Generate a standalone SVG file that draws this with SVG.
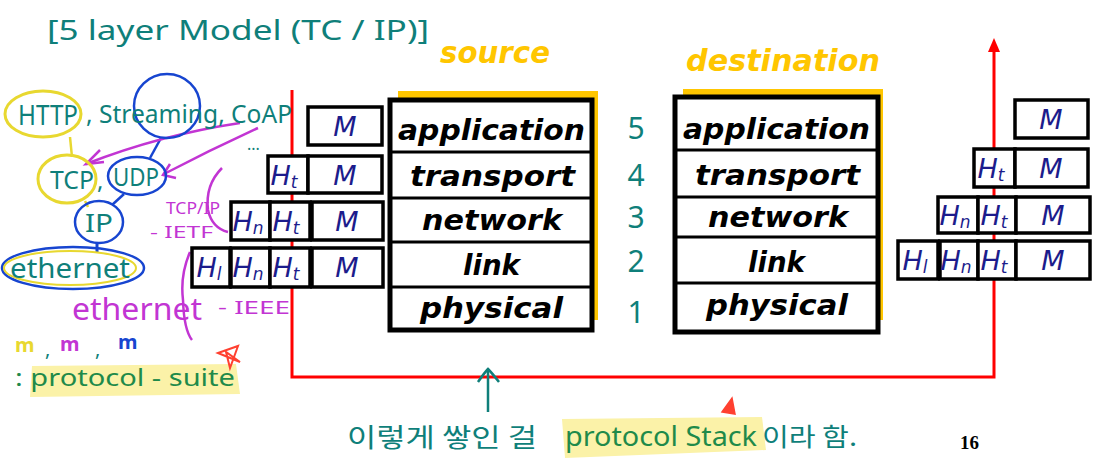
<svg xmlns="http://www.w3.org/2000/svg" width="1103" height="465" viewBox="0 0 1103 465">
<defs>
<style>
.layer{font-family:"DejaVu Sans","Liberation Sans",sans-serif;font-weight:bold;font-style:italic;font-size:29px;fill:#000}
.stack{fill:#fff;stroke:#000;stroke-width:5}
.shadow{fill:#FFC600}
.div{stroke:#000;stroke-width:3}
.pk{fill:#fff;stroke:#000;stroke-width:3.5}
.hd{font-family:"DejaVu Sans","Liberation Sans",sans-serif;font-style:italic;font-size:27px;fill:#1c1c8c;text-anchor:middle}
.sub{font-size:17px}
.title{font-family:"DejaVu Sans","Liberation Sans",sans-serif;font-weight:bold;font-style:italic;font-size:30px;fill:#FFC600}
.hw{font-family:"Noto Sans","Liberation Sans",sans-serif;fill:#0f7f7a}
.mg{font-family:"Noto Sans","Liberation Sans",sans-serif;fill:#c235d3}
.kr{font-family:"Noto Sans CJK KR","Noto Sans",sans-serif}
.num{font-family:"Noto Sans","Liberation Sans",sans-serif;font-size:30px;fill:#0f7f7a;text-anchor:middle}
.red{fill:none;stroke:#ff0000;stroke-width:3}
</style>
</defs>
<rect width="1103" height="465" fill="#fff"/>

<!-- highlights -->
<g id="highlights">
<path d="M32,366 L236,364 L240,394 L30,397 Z" fill="#FBF2A8"/>
<path d="M562,419 L762,417 L766,450 L565,458 Z" fill="#FBF2A8"/>
</g>

<!-- connectors -->
<g id="connectors">
<path class="red" d="M292,90 V377 H994 V50"/>
<polygon points="994,38 988,52 1000,52" fill="#ff0000"/>
<path d="M488,412 V370" fill="none" stroke="#0f7f7a" stroke-width="2.5"/>
<path d="M478,382 Q485,372 488,369 Q492,373 499,382" fill="none" stroke="#0f7f7a" stroke-width="2.5"/>
<!-- handwritten links -->
<path d="M70,137 L72,157" stroke="#e8d830" stroke-width="2.5" fill="none"/>
<path d="M161,138 L150,158" stroke="#1745d0" stroke-width="2.5" fill="none"/>
<path d="M124,194 L112,205" stroke="#1745d0" stroke-width="2.5" fill="none"/>
<path d="M85,201 L88,207" stroke="#e8d830" stroke-width="2.5" fill="none"/>
<path d="M97,243 L97,252" stroke="#1745d0" stroke-width="3" fill="none"/>
<!-- magenta arrows -->
<path d="M240,123 Q160,135 86,164" stroke="#c235d3" stroke-width="2.5" fill="none"/>
<path d="M100,150 L86,164 L104,162" stroke="#c235d3" stroke-width="2.5" fill="none"/>
<path d="M258,128 Q210,150 164,174" stroke="#c235d3" stroke-width="2.5" fill="none"/>
<path d="M170,164 L163,175 L176,178" stroke="#c235d3" stroke-width="2.5" fill="none"/>
<path d="M222,168 Q205,185 208,210 Q212,228 228,232" stroke="#c235d3" stroke-width="2.5" fill="none"/>
<path d="M190,252 Q180,275 183,300 Q184,330 192,340" stroke="#c235d3" stroke-width="2.5" fill="none"/>
</g>

<!-- title -->
<g id="title">
<text class="hw" x="47" y="40" font-size="28" textLength="382" lengthAdjust="spacingAndGlyphs">[5 layer Model (TC / IP)]</text>
</g>

<!-- handwritten notes -->
<g id="notes">
<ellipse cx="43" cy="114" rx="38" ry="23" fill="none" stroke="#e8d830" stroke-width="3"/>
<text class="hw" x="18" y="125" font-size="27" textLength="60" lengthAdjust="spacingAndGlyphs">HTTP</text>
<ellipse cx="167" cy="106" rx="33" ry="32" fill="none" stroke="#1745d0" stroke-width="2.5"/>
<text class="hw" x="86" y="123" font-size="25" textLength="206" lengthAdjust="spacingAndGlyphs">, Streaming, CoAP</text>
<text class="hw" x="247" y="150" font-size="16">...</text>
<ellipse cx="67" cy="179" rx="29" ry="24" fill="none" stroke="#e8d830" stroke-width="3"/>
<text class="hw" x="50" y="189" font-size="26" textLength="44" lengthAdjust="spacingAndGlyphs">TCP</text>
<text class="hw" x="97" y="189" font-size="24">,</text>
<ellipse cx="137" cy="176" rx="29" ry="19" fill="none" stroke="#1745d0" stroke-width="2.5"/>
<text class="hw" x="113" y="186" font-size="25" textLength="46" lengthAdjust="spacingAndGlyphs">UDP</text>
<ellipse cx="99" cy="222" rx="24" ry="21" fill="none" stroke="#1745d0" stroke-width="2.5"/>
<text class="hw" x="85" y="232" font-size="25" textLength="28" lengthAdjust="spacingAndGlyphs">IP</text>
<ellipse cx="73" cy="268" rx="71" ry="21" fill="none" stroke="#1745d0" stroke-width="2.5"/>
<ellipse cx="70" cy="268" rx="66" ry="17" fill="none" stroke="#e8d830" stroke-width="2"/>
<text class="hw" x="10" y="278" font-size="27" textLength="120" lengthAdjust="spacingAndGlyphs">ethernet</text>
<text class="mg" x="166" y="214" font-size="17" textLength="54" lengthAdjust="spacingAndGlyphs">TCP/IP</text>
<text class="mg" x="150" y="238" font-size="17" textLength="63" lengthAdjust="spacingAndGlyphs">- IETF</text>
<text class="mg" x="72" y="320" font-size="30" textLength="130" lengthAdjust="spacingAndGlyphs">ethernet</text>
<text class="mg" x="218" y="314" font-size="18" textLength="72" lengthAdjust="spacingAndGlyphs">- IEEE</text>
<text x="15" y="352" font-family="Noto Sans, sans-serif" font-size="20" font-weight="bold" fill="#e8d830">m</text>
<text class="hw" x="45" y="356" font-size="20">,</text>
<text x="60" y="351" font-family="Noto Sans, sans-serif" font-size="20" font-weight="bold" fill="#c235d3">m</text>
<text class="hw" x="95" y="356" font-size="20">,</text>
<text x="118" y="349" font-family="Noto Sans, sans-serif" font-size="20" font-weight="bold" fill="#1745d0">m</text>
<text x="15" y="386" font-family="Noto Sans, sans-serif" font-size="24" fill="#1f8a4a" textLength="220" lengthAdjust="spacingAndGlyphs">: protocol - suite</text>
<path d="M218,353 L238,346 L230,368 L226,352 L240,362 Z" fill="none" stroke="#ff4030" stroke-width="2"/>
<path d="M722,412 L732,398 L735,414 Z" fill="#ff4030" stroke="#ff4030" stroke-width="1.5"/>
<text x="347" y="447" font-size="26" fill="#0f7f7a" class="kr" textLength="190" lengthAdjust="spacingAndGlyphs">이렇게 쌓인 걸</text>
<text x="565" y="446" font-family="Noto Sans, sans-serif" font-size="27" fill="#1f8a4a" textLength="192" lengthAdjust="spacingAndGlyphs">protocol Stack</text>
<text x="762" y="446" font-size="25" fill="#0f7f7a" class="kr" textLength="95" lengthAdjust="spacingAndGlyphs">이라 함.</text>
</g>

<!-- source stack -->
<g id="source-stack">
<text class="title" x="440" y="63" textLength="110" lengthAdjust="spacingAndGlyphs">source</text>
<rect class="shadow" x="398" y="91" width="200" height="229"/>
<rect class="stack" x="390" y="100" width="202" height="230"/>
<line class="div" x1="390" y1="152" x2="592" y2="152"/>
<line class="div" x1="390" y1="198" x2="592" y2="198"/>
<line class="div" x1="390" y1="242" x2="592" y2="242"/>
<line class="div" x1="390" y1="287" x2="592" y2="287"/>
<text class="layer" x="398" y="140" textLength="187" lengthAdjust="spacingAndGlyphs">application</text>
<text class="layer" x="410" y="186" textLength="165" lengthAdjust="spacingAndGlyphs">transport</text>
<text class="layer" x="422" y="230" textLength="140" lengthAdjust="spacingAndGlyphs">network</text>
<text class="layer" x="463" y="275" textLength="57" lengthAdjust="spacingAndGlyphs">link</text>
<text class="layer" x="420" y="318" textLength="143" lengthAdjust="spacingAndGlyphs">physical</text>
</g>

<!-- layer numbers -->
<g id="layer-numbers">
<text class="num" x="636" y="139">5</text>
<text class="num" x="636" y="186">4</text>
<text class="num" x="636" y="228">3</text>
<text class="num" x="636" y="272">2</text>
<text class="num" x="636" y="323">1</text>
</g>

<!-- destination stack -->
<g id="destination-stack">
<text class="title" x="686" y="71" textLength="194" lengthAdjust="spacingAndGlyphs">destination</text>
<rect class="shadow" x="683" y="89" width="200" height="231"/>
<rect class="stack" x="675" y="97" width="203" height="235"/>
<line class="div" x1="675" y1="150" x2="878" y2="150"/>
<line class="div" x1="675" y1="197" x2="878" y2="197"/>
<line class="div" x1="675" y1="237" x2="878" y2="237"/>
<line class="div" x1="675" y1="283" x2="878" y2="283"/>
<text class="layer" x="683" y="139" textLength="187" lengthAdjust="spacingAndGlyphs">application</text>
<text class="layer" x="695" y="185" textLength="165" lengthAdjust="spacingAndGlyphs">transport</text>
<text class="layer" x="708" y="227" textLength="140" lengthAdjust="spacingAndGlyphs">network</text>
<text class="layer" x="748" y="272" textLength="57" lengthAdjust="spacingAndGlyphs">link</text>
<text class="layer" x="706" y="315" textLength="142" lengthAdjust="spacingAndGlyphs">physical</text>
</g>

<!-- source packets -->
<g id="source-packets">
<rect class="pk" x="308" y="107" width="74" height="38"/>
<text class="hd" x="345" y="136">M</text>
<rect class="pk" x="268" y="156" width="40" height="37"/>
<rect class="pk" x="308" y="156" width="74" height="37"/>
<text class="hd" x="284" y="185">H<tspan class="sub" dy="3">t</tspan></text>
<text class="hd" x="345" y="185">M</text>
<rect class="pk" x="231" y="202" width="39" height="38"/>
<rect class="pk" x="270" y="202" width="40" height="38"/>
<rect class="pk" x="312" y="202" width="71" height="38"/>
<text class="hd" x="248" y="231">H<tspan class="sub" dy="3">n</tspan></text>
<text class="hd" x="286" y="231">H<tspan class="sub" dy="3">t</tspan></text>
<text class="hd" x="347" y="231">M</text>
<rect class="pk" x="192" y="248" width="38" height="39"/>
<rect class="pk" x="231" y="248" width="39" height="39"/>
<rect class="pk" x="270" y="248" width="40" height="39"/>
<rect class="pk" x="312" y="248" width="71" height="39"/>
<text class="hd" x="209" y="277">H<tspan class="sub" dy="3">l</tspan></text>
<text class="hd" x="248" y="277">H<tspan class="sub" dy="3">n</tspan></text>
<text class="hd" x="286" y="277">H<tspan class="sub" dy="3">t</tspan></text>
<text class="hd" x="347" y="277">M</text>
</g>

<!-- destination packets -->
<g id="destination-packets">
<rect class="pk" x="1015" y="100" width="73" height="38"/>
<text class="hd" x="1051" y="129">M</text>
<rect class="pk" x="974" y="149" width="41" height="38"/>
<rect class="pk" x="1015" y="149" width="73" height="38"/>
<text class="hd" x="991" y="178">H<tspan class="sub" dy="3">t</tspan></text>
<text class="hd" x="1051" y="178">M</text>
<rect class="pk" x="938" y="197" width="40" height="36"/>
<rect class="pk" x="978" y="197" width="38" height="36"/>
<rect class="pk" x="1016" y="197" width="74" height="36"/>
<text class="hd" x="955" y="225">H<tspan class="sub" dy="3">n</tspan></text>
<text class="hd" x="994" y="225">H<tspan class="sub" dy="3">t</tspan></text>
<text class="hd" x="1053" y="225">M</text>
<rect class="pk" x="898" y="241" width="40" height="38"/>
<rect class="pk" x="940" y="241" width="38" height="38"/>
<rect class="pk" x="978" y="241" width="38" height="38"/>
<rect class="pk" x="1016" y="241" width="74" height="38"/>
<text class="hd" x="915" y="270">H<tspan class="sub" dy="3">l</tspan></text>
<text class="hd" x="956" y="270">H<tspan class="sub" dy="3">n</tspan></text>
<text class="hd" x="994" y="270">H<tspan class="sub" dy="3">t</tspan></text>
<text class="hd" x="1053" y="270">M</text>
</g>

<g id="page-number">
<text x="960" y="449" font-family="Liberation Serif, serif" font-weight="bold" font-size="19" fill="#000">16</text>
</g>
</svg>
